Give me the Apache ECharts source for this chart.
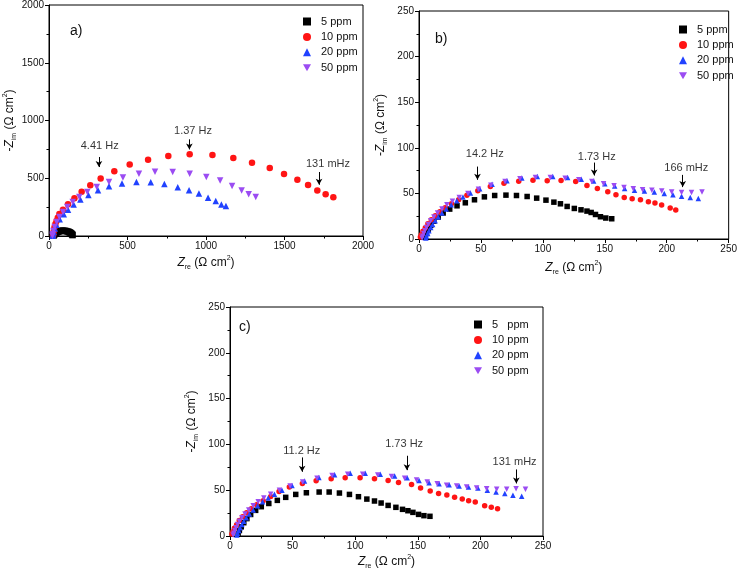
<!DOCTYPE html>
<html><head><meta charset="utf-8">
<script src="https://cdn.jsdelivr.net/npm/echarts@6/dist/echarts.min.js"></script>
<style>html,body{margin:0;padding:0;background:#fff}#c{width:740px;height:577px}</style>
</head><body><div id="c"></div>
<script>
// ---------- data ----------
const legendNamesAB = ['5 ppm', '10 ppm', '20 ppm', '50 ppm'];
const legendNamesC = ['5   ppm', '10 ppm', '20 ppm', '50 ppm'];

// panel a)
const a5x = [30,33,37,42,48,55,63,72,81,90,99,108,117,125,132,138,143,147,150];
const a5y = [5,12,19,25,31,36,40,43,45,46,45,43,40,36,31,26,20,14,8];
const a10x = [26,28,31,35,41,48,56,66,89,121,162,208,263,329,416,514,631,760,896,1041,1174,1293,1406,1497,1582,1650,1709,1762,1811];
const a10y = [5,25,48,75,103,130,158,190,228,274,326,384,439,497,560,618,661,693,707,701,675,635,589,537,488,442,393,361,335];
const a20x = [24,26,30,37,47,68,94,121,157,200,251,312,382,465,557,648,735,820,892,955,1013,1062,1098,1127];
const a20y = [3,15,35,64,98,145,188,228,272,315,355,396,430,454,468,465,450,422,396,367,332,303,272,260];
const a50x = [22,24,28,36,49,66,89,117,151,193,244,304,382,471,573,675,788,896,1002,1090,1166,1227,1272,1317];
const a50y = [3,15,43,78,121,165,208,251,294,338,381,424,468,506,540,557,554,540,511,480,433,393,361,338];

// panel b)
const b5x = [5,6,7.5,9.5,12,15.5,19.5,24.8,30.7,37.4,44.8,52.8,61.1,70.2,78.7,87.3,95,102.5,108.9,114.2,119.6,125.4,130.8,135.6,139,142.5,146.5,150.8,155.6];
const b5y = [2,6,10.5,15,19.5,24,28.5,32.8,36.4,39.7,43,46.2,47.7,48.1,47.7,46.6,44.8,42.6,40.4,38.6,35.7,33.5,32,30.6,29.1,26.9,24.4,23,22.2];
const b10x = [1.1,1.9,3.2,5.1,7.2,9.9,13.1,16.8,21.1,26.2,32.0,38.7,47.5,57.6,68.6,80.5,92,103.5,114.7,126.5,135.6,144,152.4,159,165.7,172.1,178.8,185.2,190.5,195.9,202.8,207.3];
const b10y = [2.2,4.7,8.4,12.4,16.8,21.1,25.5,29.8,34.2,38.6,43,48.1,52.8,57.5,61.2,63.2,64.3,64,64.2,63,58.6,55.4,51.8,48.5,45.6,44.1,43,40.8,39.4,37.2,33.9,31.7];
const b20x = [5.5,6,7,8,9.5,11,13,15.5,18.5,22,26,30.5,35.5,41.5,49,59,71,83,95.5,108,120,131,141,150,158,166,174,182,190,198,205,212,219,225.5];
const b20y = [1,3,6,9,12.5,16,20,24,28.5,33,37.5,42,46,50.5,55,60,64,67,68.5,68.5,67.5,65.5,63.5,60.5,58,55.5,53.5,52.5,51.5,50,48.5,47,45.5,44.5];
const b50x = [2.5,3,3.8,4.8,6,7.5,9.5,12,15,18.5,22.5,27,32.5,39.5,48,58,69.5,81.5,94,106,118,129,139.5,149,157.5,165.5,173,180.5,188,196,204,212,220,228.5];
const b50y = [1,3,6,9,12.5,16,20,24,28.5,33,37.5,41.5,45.5,50,54.5,59,63,66,67.5,67.5,66.5,65,63,60.5,58.5,56.5,55,54,53.5,52.5,51.5,51,51,51.5];

// panel c)
const c5x = [6.5,7.5,9,11,13.5,16.5,20.5,25,31,37.8,44.5,52.5,61,71.2,79.2,87.4,95.4,102.6,109.3,115.4,120.7,126.3,132.5,137.8,142.1,146.1,150.6,154.9,159.7];
const c5y = [2,6,10,14.5,19,23.5,28,32,35.5,38.9,42.2,45.4,47.2,48,48,46.9,45.4,42.9,40.3,38.2,36,33.4,31.3,29.1,27.6,25.8,23.6,22.2,21.5];
const c10x = [1.5,2.3,3.5,5.3,7.4,10,13.2,17,21.3,26.5,32.5,39.2,47.4,57.8,68.8,80.8,92,103.9,115.4,126.3,134.6,145,152.2,159.9,166.6,173.2,179.4,185.5,190.6,195.9,203.4,208.7,213.7];
const c10y = [2.2,4.7,8.4,12.4,16.8,21.1,25.5,29.8,34.2,38.6,43,48.5,53.4,57.4,60.3,62.5,63.6,63.5,62.5,60.7,58.5,56.3,52.3,49.1,46.5,44.7,42.2,40.3,38.5,37.1,33.1,31.3,29.8];
const c20x = [5.5,6,7,8,9.5,11,13,15.5,18.5,22,26,30.5,35.5,41.5,49.5,59.5,71,83.5,96,108,120,131.5,141.5,151,159,167,175,183,190.5,198,205.5,212.5,219.5,226,233];
const c20y = [1,3,6,9,12.5,16,20,24,28.5,33,37.5,41.5,45.5,50,55,60,64,67,68.5,68.5,67.5,65.5,63.5,60.5,58,57,56,54.5,53.5,52.5,50,48,46.5,44.5,43.5];
const c50x = [2.5,3,3.8,4.8,6,7.5,9.5,12,15,18.5,22.5,27,32.5,39.5,48,58,69.5,81.5,94,106,118,129,139.5,149,157.5,165.5,173,181,189,197,205,213,221,228.5,236];
const c50y = [1,3,6,9,12.5,16,20,24,28.5,33,37.5,41.5,45.5,50,54.5,59,63,66,67.5,67.5,66.5,65,63,61,59,57,55.5,54.5,53.5,52.5,51.5,51,51,51.5,51];

// frequency annotations: label, text position, arrow x, arrow top, arrow bottom
const annA = [['4.41 Hz',323,779,318,684,597],['1.37 Hz',917,909,894,837,750],['131 mHz',1777,626,1720,554,444]];
const annB = [['14.2 Hz',53.1,92.9,47.2,79.4,64.9],['1.73 Hz',143.5,90.4,141.4,83.8,69.6],['166 mHz',215.8,77.6,212.9,70.3,56.9]];
const annC = [['11.2 Hz',57.3,92.7,57.6,85.8,70.1],['1.73 Hz',139.1,100.3,141.3,87.6,71.9],['131 mHz',227.3,80.3,228.7,72.7,57.4]];

// ---------- chart ----------
const FF = '"Liberation Sans", Arial, sans-serif';
const zip = (xs, ys) => xs.map((x, i) => [x, ys[i]]);
const INV_TRI = 'path://M0,0L10,0L5,8.66Z';
const styles = [
  {symbol: 'rect', color: '#000000'},
  {symbol: 'circle', color: '#ff1414'},
  {symbol: 'triangle', color: '#2142ff'},
  {symbol: INV_TRI, color: '#9b4cf2'}
];

const grids = [
  {left: 49, top: 5, width: 314, height: 231},
  {left: 419, top: 11, width: 313, height: 228},
  {left: 230, top: 307, width: 313, height: 229}
];

const richName = {
  i: {fontFamily: FF, fontSize: 12, fontStyle: 'italic', color: '#111', lineHeight: 16},
  sub: {fontFamily: FF, fontSize: 7, color: '#111', verticalAlign: 'bottom', lineHeight: 16, padding: [5, 0, 0, 0]},
  sup: {fontFamily: FF, fontSize: 7, color: '#111', verticalAlign: 'top', lineHeight: 16, padding: [0, 0, 5, 0]},
  n: {fontFamily: FF, fontSize: 12, color: '#111', lineHeight: 16}
};

function axisCommon(gi, max, interval) {
  return {
    type: 'value', gridIndex: gi, min: 0, max: max, interval: interval,
    axisLine: {show: true, onZero: false, lineStyle: {color: '#000', width: 1}},
    axisTick: {show: true, inside: false, length: 4, lineStyle: {color: '#000', width: 1}},
    minorTick: {show: true, splitNumber: 2, length: 2.5, lineStyle: {color: '#000', width: 1}},
    splitLine: {show: false}, minorSplitLine: {show: false},
    axisLabel: {color: '#111', fontSize: 10, fontFamily: FF, margin: 5, formatter: v => String(v)},
    nameLocation: 'middle'
  };
}
function xAx(gi, max, interval, gap) {
  return Object.assign(axisCommon(gi, max, interval), {
    name: '{i|Z}{sub|re}{n| (Ω cm}{sup|2}{n|)}', nameGap: gap,
    nameTextStyle: {rich: richName}
  });
}
function yAx(gi, max, interval, gap) {
  return Object.assign(axisCommon(gi, max, interval), {
    name: '{n|-}{i|Z}{sub|im}{n| (Ω cm}{sup|2}{n|)}', nameGap: gap, nameRotate: 90,
    nameTextStyle: {rich: richName}
  });
}

function dataSeries(gi, names, xsList, ysList, size) {
  return xsList.map((xs, k) => ({
    type: 'scatter', name: names[k], xAxisIndex: gi, yAxisIndex: gi,
    symbol: styles[k].symbol, symbolSize: size,
    itemStyle: {color: styles[k].color, opacity: 1},
    data: zip(xs, ysList[k]), z: 2 + k, silent: true
  }));
}
function annSeries(gi, ann) {
  return {
    type: 'scatter', name: 'ann' + gi, xAxisIndex: gi, yAxisIndex: gi, symbolSize: 0,
    silent: true, z: 10,
    data: ann.map(a => ({value: [a[1], a[2]], label: {formatter: a[0]}})),
    label: {show: true, position: 'inside', color: '#000', fontSize: 11, fontFamily: FF, textBorderWidth: 0},
    markLine: {
      silent: true, symbol: ['none', 'arrow'], symbolSize: [5, 6],
      lineStyle: {color: '#000', width: 1, type: 'solid'}, label: {show: false},
      animation: false,
      data: ann.map(a => [{coord: [a[3], a[4]]}, {coord: [a[3], a[5]]}])
    }
  };
}
function legend(left, top, names) {
  return {
    left: left, top: top, orient: 'vertical', itemWidth: 8, itemHeight: 8, itemGap: 4.4,
    selectedMode: false, data: names,
    textStyle: {fontSize: 11, fontFamily: FF, color: '#111', padding: [0, 0, 0, 5]}
  };
}

const option = {
  animation: false,
  backgroundColor: '#fff',
  grid: grids.map(g => Object.assign({show: true, borderColor: '#000', borderWidth: 1, backgroundColor: 'transparent'}, g)),
  xAxis: [xAx(0, 2000, 500, 19), xAx(1, 250, 50, 21), xAx(2, 250, 50, 18)],
  yAxis: [yAx(0, 2000, 500, 30), yAx(1, 250, 50, 30), yAx(2, 250, 50, 30)],
  legend: [legend(298, 11, legendNamesAB), legend(674, 19, legendNamesAB.slice()), legend(469, 314, legendNamesC)],
  graphic: [
    {type: 'text', left: 70, top: 24, style: {text: 'a)', font: '14px ' + FF, fill: '#111'}},
    {type: 'text', left: 435, top: 32, style: {text: 'b)', font: '14px ' + FF, fill: '#111'}},
    {type: 'text', left: 239, top: 320, style: {text: 'c)', font: '14px ' + FF, fill: '#111'}}
  ],
  series: [].concat(
    dataSeries(0, legendNamesAB, [a5x, a10x, a20x, a50x], [a5y, a10y, a20y, a50y], 6.5),
    dataSeries(1, legendNamesAB, [b5x, b10x, b20x, b50x], [b5y, b10y, b20y, b50y], 5.5),
    dataSeries(2, legendNamesC, [c5x, c10x, c20x, c50x], [c5y, c10y, c20y, c50y], 5.5),
    [annSeries(0, annA), annSeries(1, annB), annSeries(2, annC)]
  )
};
const chart = echarts.init(document.getElementById('c'), null, {renderer: 'canvas'});
chart.setOption(option);
</script>
</body></html>
